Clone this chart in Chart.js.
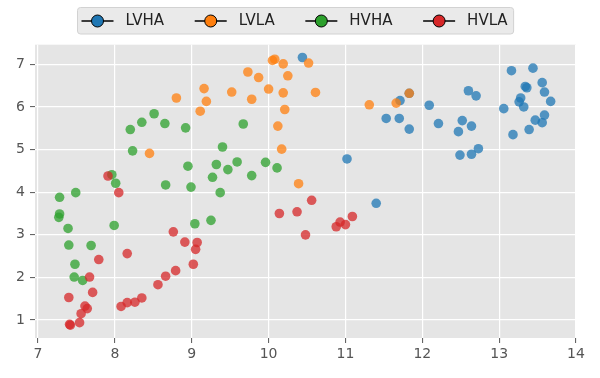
<!DOCTYPE html>
<html>
<head>
<meta charset="utf-8">
<script src="https://cdn.jsdelivr.net/npm/chart.js"></script>
<style>
  html, body { margin: 0; padding: 0; background: #ffffff; }
</style>
</head>
<body>
<canvas id="scatterChart" width="600" height="378"></canvas>
<script>
// series names, colours and tick labels
const seriesNames = ['LVHA', 'LVLA', 'HVHA', 'HVLA'];
const seriesColors = ['#1f77b4', '#ff7f0e', '#2ca02c', '#d62728'];
const xTicks = [7, 8, 9, 10, 11, 12, 13, 14];
const yTicks = [1, 2, 3, 4, 5, 6, 7];

// values
const lvhaX = [11.71, 11.83, 11.53, 11.70, 11.83, 12.09, 12.21, 12.60, 12.70, 12.52, 12.64, 12.47, 12.49, 12.64, 12.73,
               13.16, 13.44, 13.56, 13.34, 13.36, 13.59, 13.67, 13.28, 13.26, 13.32, 13.06, 13.59, 13.47, 13.56, 13.39,
               13.18, 11.40, 10.44, 11.02];
const lvhaY = [6.15, 6.32, 5.73, 5.73, 5.48, 6.04, 5.61, 6.38, 6.26, 5.68, 5.55, 5.42, 4.87, 4.89, 5.02,
               6.85, 6.91, 6.57, 6.48, 6.45, 6.35, 6.13, 6.21, 6.12, 6.00, 5.96, 5.81, 5.69, 5.63, 5.47,
               5.35, 3.74, 7.16, 4.78];

const lvlaX = [8.80, 9.16, 9.19, 9.11, 8.45, 10.08, 10.05, 10.19, 10.52, 9.73, 9.87, 10.25, 9.52, 10.00, 10.19,
               10.61, 9.78, 10.21, 10.12, 10.17, 10.39, 11.31, 11.66, 11.83];
const lvlaY = [6.21, 6.43, 6.13, 5.90, 4.91, 7.12, 7.09, 7.01, 7.03, 6.82, 6.69, 6.73, 6.35, 6.42, 6.33,
               6.34, 6.18, 5.94, 5.55, 5.01, 4.20, 6.05, 6.09, 6.32];

const hvhaX = [8.20, 8.35, 8.51, 8.65, 8.92, 8.23, 9.40, 8.95, 9.32, 9.47, 9.27, 8.66, 8.99, 9.37, 7.96,
               8.01, 7.49, 7.28, 7.28, 7.27, 7.39, 7.99, 7.40, 7.69, 7.48, 7.47, 7.58, 9.04, 9.25, 9.67,
               9.59, 9.78, 9.96, 10.11];
const hvhaY = [5.47, 5.64, 5.84, 5.61, 5.51, 4.97, 5.06, 4.61, 4.65, 4.53, 4.35, 4.17, 4.12, 3.99, 4.41,
               4.21, 3.99, 3.88, 3.49, 3.41, 3.15, 3.22, 2.76, 2.75, 2.31, 2.01, 1.93, 3.26, 3.34, 5.60,
               4.71, 4.39, 4.70, 4.57];

const hvlaX = [7.91, 8.05, 8.76, 8.91, 9.07, 9.05, 9.02, 8.16, 7.79, 7.67, 7.71, 7.40, 7.61, 7.64, 7.56,
               7.54, 7.41, 7.42, 8.08, 8.16, 8.26, 8.35, 8.56, 8.66, 8.79, 10.56, 10.14, 10.37, 10.48, 10.88,
               10.93, 11.00, 11.09];
const hvlaY = [4.38, 3.99, 3.07, 2.83, 2.82, 2.66, 2.31, 2.56, 2.42, 2.01, 1.65, 1.53, 1.33, 1.27, 1.15,
               0.94, 0.90, 0.88, 1.32, 1.41, 1.42, 1.52, 1.83, 2.03, 2.16, 3.81, 3.50, 3.54, 3.00, 3.19,
               3.30, 3.24, 3.43];

const seriesX = [lvhaX, lvlaX, hvhaX, hvlaX];
const seriesY = [lvhaY, lvlaY, hvhaY, hvlaY];

function withAlpha(hex, a) {
    const n = parseInt(hex.slice(1), 16);
    return `rgba(${(n >> 16) & 255}, ${(n >> 8) & 255}, ${n & 255}, ${a})`;
}

// grey panel behind the points
const plotBackground = {
    id: 'plotBackground',
    beforeDraw(chart) {
        const { ctx, chartArea: a } = chart;
        ctx.save();
        ctx.fillStyle = '#e5e5e5';
        ctx.fillRect(a.left, a.top, a.right - a.left, a.bottom - a.top);
        ctx.restore();
    }
};

// legend row above the plot, line + circle markers in a rounded box
const topLegend = {
    id: 'topLegend',
    afterDraw(chart) {
        const ctx = chart.ctx;
        const sets = chart.data.datasets;
        ctx.save();
        ctx.font = '15px "DejaVu Sans"';
        const widths = sets.map(d => ctx.measureText(d.label).width);
        const gap = 26.7;
        const boxLeft = 77.5, boxTop = 7.5, boxH = 26.5, cy = 21;
        const boxW = 48 * sets.length + widths.reduce((s, w) => s + w, 0) + gap * (sets.length - 1) + 6;

        ctx.beginPath();
        ctx.roundRect(boxLeft, boxTop, boxW, boxH, 3);
        ctx.fillStyle = '#eaeaea';
        ctx.fill();
        ctx.strokeStyle = '#d2d2d2';
        ctx.lineWidth = 1;
        ctx.stroke();

        let x0 = boxLeft;
        sets.forEach((d, i) => {
            ctx.beginPath();
            ctx.moveTo(x0 + 4, cy);
            ctx.lineTo(x0 + 36, cy);
            ctx.strokeStyle = '#000000';
            ctx.lineWidth = 1.5;
            ctx.stroke();

            ctx.beginPath();
            ctx.arc(x0 + 20, cy, 6, 0, Math.PI * 2);
            ctx.fillStyle = d.legendColor;
            ctx.fill();
            ctx.lineWidth = 1;
            ctx.stroke();

            ctx.fillStyle = '#222222';
            ctx.textBaseline = 'middle';
            ctx.textAlign = 'left';
            ctx.fillText(d.label, x0 + 48, cy + 0.5);
            x0 += 48 + widths[i] + gap;
        });
        ctx.restore();
    }
};

const datasets = seriesNames.map((name, i) => ({
    label: name,
    legendColor: seriesColors[i],
    data: seriesX[i].map((x, j) => ({ x: x, y: seriesY[i][j] })),
    backgroundColor: withAlpha(seriesColors[i], 0.75),
    borderWidth: 0,
    pointRadius: 4.8,
    pointHoverRadius: 4.8,
    order: seriesNames.length - i
}));

const axisFont = { family: 'DejaVu Sans', size: 14 };

const ctx = document.getElementById('scatterChart').getContext('2d');
new Chart(ctx, {
    type: 'scatter',
    data: { datasets: datasets },
    options: {
        responsive: false,
        animation: false,
        devicePixelRatio: 1,
        layout: { padding: { top: 44.7, right: 24, bottom: 0, left: 0 } },
        plugins: {
            legend: { display: false },
            tooltip: { enabled: false }
        },
        scales: {
            x: {
                type: 'linear',
                min: 6.96,
                max: 14.0,
                afterBuildTicks: s => { s.ticks = xTicks.map(v => ({ value: v })); },
                afterFit: s => { s.height = 40; },
                grid: { color: '#ffffff', lineWidth: 1.2, tickColor: '#555555', tickLength: 5, tickWidth: 1 },
                border: { display: false },
                ticks: { color: '#555555', font: axisFont, padding: 3, maxRotation: 0 }
            },
            y: {
                type: 'linear',
                min: 0.58,
                max: 7.46,
                afterBuildTicks: s => { s.ticks = yTicks.map(v => ({ value: v })); },
                afterFit: s => { s.width = 35; },
                grid: { color: '#ffffff', lineWidth: 1.2, tickColor: '#555555', tickLength: 5, tickWidth: 1 },
                border: { display: false },
                ticks: { color: '#555555', font: axisFont, padding: 5 }
            }
        }
    },
    plugins: [plotBackground, topLegend]
});
</script>
</body>
</html>
